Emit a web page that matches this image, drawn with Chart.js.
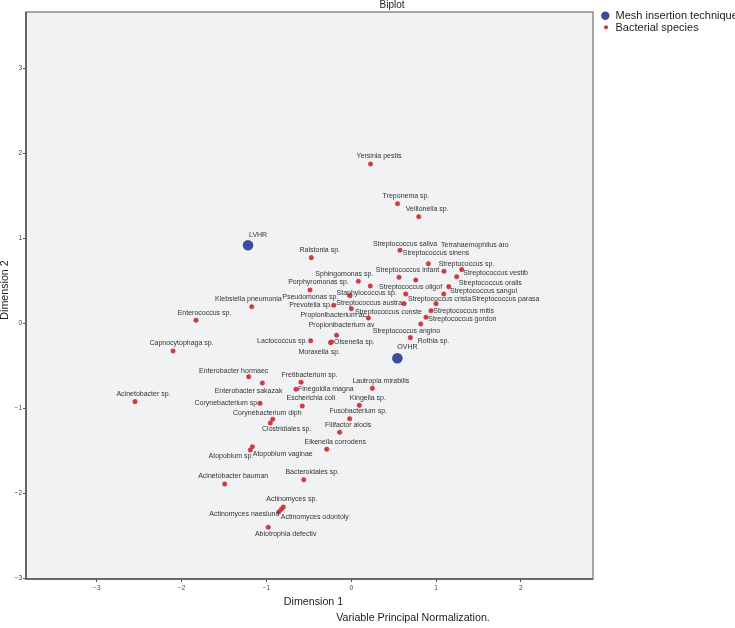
<!DOCTYPE html>
<html>
<head>
<meta charset="utf-8">
<script src="https://cdn.jsdelivr.net/npm/chart.js@4.4.1/dist/chart.umd.min.js"></script>
<style>
  html, body { margin:0; padding:0; background:#fff; }
  #wrap { width:735px; height:628px; position:relative; }
</style>
</head>
<body>
<div id="wrap"><canvas id="c" width="735" height="628"></canvas></div>
<script>
// ---- data ----
const techniqueNames = ["LVHR", "OVHR"];
const techniqueDim1 = [-1.217, 0.544];
const techniqueDim2 = [0.918, -0.412];

const speciesNames = [
  "Yersinia pestis","Treponema sp.","Veillonella sp.","Streptococcus saliva","Streptococcus sinens",
  "Terrahaemophilus aro","Streptococcus sp.","Streptococcus infant","Streptococcus vestib","Streptococcus oralis",
  "Streptococcus sangui","Streptococcus oligof","Streptococcus crista","Streptococcus parasa","Streptococcus austra",
  "Streptococcus mitis","Streptococcus gordon","Streptococcus angino","Rothia sp.","Ralstonia sp.",
  "Sphingomonas sp.","Porphyromonas sp.","Staphylococcus sp.","Pseudomonas sp.","Prevotella sp.",
  "Propionibacterium ac","Streptococcus conste","Propionibacterium av","Lactococcus sp.","Olsenella sp.",
  "Moraxella sp.","Klebsiella pneumonia","Enterococcus sp.","Capnocytophaga sp.","Enterobacter hormaec",
  "Enterobacter sakazak","Fretibacterium sp.","Finegoldia magna","Lautropia mirabilis","Acinetobacter sp.",
  "Corynebacterium sp.","Escherichia coli","Kingella sp.","Corynebacterium diph","Clostridiales sp.",
  "Fusobacterium sp.","Filifactor alocis","Eikenella corrodens","Atopobium vaginae","Atopobium sp.",
  "Acinetobacter bauman","Bacteroidales sp.","Actinomyces sp.","Actinomyces odontoly","Actinomyces naeslund",
  "Abiotrophia defectiv"
];
const speciesDim1 = [
  0.228, 0.546, 0.796, 0.575, 0.761,
  0.909, 1.094, 0.564, 1.303, 1.244,
  1.150, 0.643, 1.000, 1.091, 0.623,
  0.941, 0.882, 0.820, 0.697, -0.471,
  0.084, -0.486, 0.225, -0.014, -0.206,
  0.001, 0.202, -0.173, -0.478, -0.232,
  -0.244, -1.173, -1.830, -2.101, -1.209,
  -1.048, -0.592, -0.651, 0.249, -2.550,
  -1.075, -0.577, 0.096, -0.926, -0.954,
  -0.018, -0.136, -0.289, -1.166, -1.190,
  -1.492, -0.560, -0.801, -0.824, -0.855,
  -0.978
];
const speciesDim2 = [
  1.874, 1.407, 1.254, 0.859, 0.509,
  0.701, 0.612, 0.541, 0.631, 0.548,
  0.431, 0.345, 0.231, 0.345, 0.231,
  0.148, 0.071, -0.008, -0.169, 0.772,
  0.494, 0.392, 0.439, 0.325, 0.212,
  0.172, 0.062, -0.140, -0.205, -0.220,
  -0.227, 0.195, 0.035, -0.326, -0.628,
  -0.702, -0.694, -0.776, -0.765, -0.922,
  -0.941, -0.973, -0.965, -1.129, -1.173,
  -1.122, -1.282, -1.482, -1.452, -1.491,
  -1.891, -1.840, -2.161, -2.188, -2.220,
  -2.400
];
const xTickValues = [-3, -2, -1, 0, 1, 2];
const yTickValues = [-3, -2, -1, 0, 1, 2, 3];

// ---- label placement (style: anchor, pixel offset from the point) ----
const defaultLabel = ['c', 8.5, -7.5];
const labelPlacement = {
  "LVHR": ['l', 1, -10], "OVHR": ['l', 0, -11.6],
  "Streptococcus saliva": ['c', 5, -6.6], "Streptococcus sinens": ['l', -13, -26.7],
  "Terrahaemophilus aro": ['l', 12.7, -18.4], "Streptococcus sp.": ['l', -5.3, -7.6],
  "Streptococcus vestib": ['l', 1.6, 3], "Streptococcus oralis": ['l', 2, 6.6],
  "Streptococcus sangui": ['l', 1.3, 4.3], "Streptococcus oligof": ['l', -26.7, -7],
  "Streptococcus crista": ['l', -28, -4.4], "Streptococcus parasa": ['l', 28, 5.3],
  "Streptococcus austra": ['r', -2, -0.7], "Streptococcus mitis": ['l', 2.3, 0],
  "Streptococcus gordon": ['l', 2.3, 1.7], "Streptococcus angino": ['r', 19.3, 6.7],
  "Rothia sp.": ['l', 7.4, 3.3], "Sphingomonas sp.": ['c', -14, -7.3],
  "Staphylococcus sp.": ['c', -3.6, 6.7], "Pseudomonas sp.": ['r', -11.7, 1],
  "Prevotella sp.": ['r', -2, -0.3], "Propionibacterium ac": ['c', -18, 6.3],
  "Streptococcus conste": ['c', 20, -5.7], "Propionibacterium av": ['c', 5, -10],
  "Lactococcus sp.": ['r', -3.4, 0], "Olsenella sp.": ['l', 2.5, 0],
  "Moraxella sp.": ['c', -11.3, 9.1], "Klebsiella pneumonia": ['c', -3.4, -8],
  "Enterobacter hormaec": ['c', -15, -6], "Enterobacter sakazak": ['c', -13.8, 7.7],
  "Finegoldia magna": ['l', 2, 0], "Corynebacterium sp.": ['r', -1, 0],
  "Corynebacterium diph": ['c', -5.4, -6.3], "Clostridiales sp.": ['c', 16.4, 6],
  "Atopobium sp.": ['r', 3, 5.7], "Atopobium vaginae": ['l', 0.4, 7.3],
  "Actinomyces odontoly": ['l', -0.6, 8], "Actinomyces naeslund": ['r', 0.6, 2],
  "Abiotrophia defectiv": ['c', 17.4, 6.7]
};

const FONT = '"Liberation Sans", Arial, Helvetica, sans-serif';
const BLUE = '#3c4b9d', RED = '#d23a41';
const fmt = v => (v < 0 ? '\u2212' + Math.abs(v) : String(v));

const techniqueData = techniqueNames.map((n, i) => ({ x: techniqueDim1[i], y: techniqueDim2[i], name: n }));
const speciesData = speciesNames.map((n, i) => ({ x: speciesDim1[i], y: speciesDim2[i], name: n }));

const decor = {
  id: 'decor',
  beforeDraw(chart) {
    const { ctx, chartArea: a } = chart;
    ctx.save();
    ctx.fillStyle = '#ffffff';
    ctx.fillRect(0, 0, chart.width, chart.height);
    ctx.fillStyle = '#f1f2f4';
    ctx.fillRect(a.left, a.top, a.right - a.left, a.bottom - a.top);
    ctx.restore();
  },
  afterDatasetsDraw(chart) {
    const { ctx } = chart;
    ctx.save();
    ctx.font = '7px ' + FONT;
    ctx.fillStyle = '#333';
    ctx.textBaseline = 'middle';
    chart.data.datasets.forEach((ds, di) => {
      const meta = chart.getDatasetMeta(di);
      meta.data.forEach((el, i) => {
        const name = ds.data[i].name;
        const p = labelPlacement[name] || defaultLabel;
        ctx.textAlign = p[0] === 'l' ? 'left' : (p[0] === 'r' ? 'right' : 'center');
        ctx.fillText(name, el.x + p[1], el.y + p[2]);
      });
    });
    ctx.restore();
  },
  afterDraw(chart) {
    const { ctx, chartArea: a } = chart;
    ctx.save();
    // frame
    ctx.strokeStyle = '#7a7a7a';
    ctx.lineWidth = 1.3;
    ctx.strokeRect(a.left, a.top, a.right - a.left, a.bottom - a.top);
    ctx.strokeStyle = '#555';
    ctx.lineWidth = 1.6;
    ctx.beginPath();
    ctx.moveTo(a.left, a.top); ctx.lineTo(a.left, a.bottom); ctx.lineTo(a.right, a.bottom);
    ctx.stroke();
    // title
    ctx.fillStyle = '#222';
    ctx.textAlign = 'center';
    ctx.textBaseline = 'middle';
    ctx.font = '10px ' + FONT;
    ctx.fillText('Biplot', 392, 5);
    // axis titles
    ctx.font = '10.7px ' + FONT;
    ctx.fillText('Dimension 1', 313.5, 602.5);
    ctx.fillText('Variable Principal Normalization.', 413, 618.5);
    ctx.save();
    ctx.translate(5.5, 290);
    ctx.rotate(-Math.PI / 2);
    ctx.fillText('Dimension 2', 0, 0);
    ctx.restore();
    // legend
    ctx.fillStyle = BLUE;
    ctx.beginPath(); ctx.arc(605.3, 15.8, 4.2, 0, Math.PI * 2); ctx.fill();
    ctx.fillStyle = RED;
    ctx.beginPath(); ctx.arc(606, 27.3, 2.1, 0, Math.PI * 2); ctx.fill();
    ctx.fillStyle = '#222';
    ctx.textAlign = 'left';
    ctx.font = '11px ' + FONT;
    ctx.fillText('Mesh insertion technique', 615.5, 16);
    ctx.fillText('Bacterial species', 615.5, 27.5);
    ctx.restore();
  }
};

new Chart(document.getElementById('c'), {
  type: 'scatter',
  data: {
    datasets: [
      { label: 'Mesh insertion technique', data: techniqueData, backgroundColor: BLUE, borderWidth: 0, pointRadius: 5.3, pointHoverRadius: 5.3 },
      { label: 'Bacterial species', data: speciesData, backgroundColor: RED, borderColor: '#b8323a', borderWidth: 0.4, pointRadius: 2.3, pointHoverRadius: 2.3 }
    ]
  },
  options: {
    responsive: false,
    animation: false,
    devicePixelRatio: 1,
    layout: { padding: { left: 0, right: 142, top: 12, bottom: 0 } },
    plugins: { legend: { display: false }, tooltip: { enabled: false }, title: { display: false } },
    events: [],
    scales: {
      x: {
        type: 'linear', min: -3.835, max: 2.851,
        afterBuildTicks: s => { s.ticks = xTickValues.map(v => ({ value: v })); },
        afterFit: s => { s.height = 49; },
        grid: { drawOnChartArea: false, drawTicks: true, tickLength: 3, color: '#555', lineWidth: 1 },
        border: { display: false },
        ticks: { font: { size: 6.5, family: FONT }, color: '#444', padding: 2, maxRotation: 0, autoSkip: false, callback: v => fmt(v) }
      },
      y: {
        type: 'linear', min: -3.008, max: 3.662,
        afterBuildTicks: s => { s.ticks = yTickValues.map(v => ({ value: v })); },
        afterFit: s => { s.width = 26; },
        grid: { drawOnChartArea: false, drawTicks: true, tickLength: 3, color: '#555', lineWidth: 1 },
        border: { display: false },
        ticks: { font: { size: 6.5, family: FONT }, color: '#444', padding: 1, autoSkip: false, callback: v => fmt(v) }
      }
    }
  },
  plugins: [decor]
});
</script>
</body>
</html>
